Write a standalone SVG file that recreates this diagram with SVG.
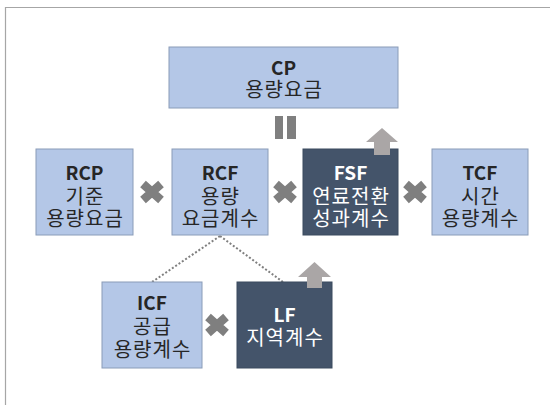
<svg xmlns="http://www.w3.org/2000/svg" width="550" height="405" viewBox="0 0 550 405">
<style>
.lb{fill:#b4c7e7;stroke:#8a9cb8;stroke-width:1}
.db{fill:#44546a;stroke:#3a4a5e;stroke-width:1}
text{font-family:"Noto Sans CJK KR","Malgun Gothic","Noto Sans",sans-serif;font-size:20px;text-anchor:middle;letter-spacing:1px}
.t{fill:#262626}
.w{fill:#ffffff}
.b{font-weight:bold;font-size:19px;letter-spacing:0}
.dot{fill:none;stroke:#7f7f7f;stroke-width:2;stroke-dasharray:2 2}
.arr{fill:#aaa6a6}
</style>
<defs>
<path id="x" d="M-9,-8 L9,8 M-9,8 L9,-8" fill="none" stroke="#7f7f7f" stroke-width="8.5"/>
</defs>
<rect width="550" height="405" fill="#ffffff"/>
<path d="M5.5,405 L5.5,7.5 L550,7.5" fill="none" stroke="#a6a6a6" stroke-width="1.2"/>
<g id="connectors">
<line class="dot" x1="220" y1="236" x2="152" y2="282"/>
<line class="dot" x1="220" y1="236" x2="283" y2="282"/>
</g>
<g id="CP">
<rect class="lb" x="169" y="47" width="229" height="61"/>
<text class="t b" x="283.5" y="75">CP</text>
<text class="t" x="284" y="97">용량요금</text>
</g>
<g id="equals">
<rect x="275" y="116" width="8" height="23" fill="#7f7f7f"/>
<rect x="287" y="116" width="9" height="23" fill="#7f7f7f"/>
</g>
<g id="RCP">
<rect class="lb" x="36" y="149" width="97" height="86"/>
<text class="t b" x="84.5" y="180">RCP</text>
<text class="t" x="85" y="204">기준</text>
<text class="t" x="85" y="226">용량요금</text>
</g>
<g id="RCF">
<rect class="lb" x="172" y="149" width="96" height="86"/>
<text class="t b" x="220" y="180">RCF</text>
<text class="t" x="220.5" y="204">용량</text>
<text class="t" x="220.5" y="226">요금계수</text>
</g>
<g id="FSF">
<rect class="db" x="303" y="149" width="95" height="86"/>
<text class="w b" x="350.5" y="180">FSF</text>
<text class="w" x="351" y="204">연료전환</text>
<text class="w" x="351" y="226">성과계수</text>
<polygon class="arr" points="382,128 398,142 390,142 390,155 374,155 374,142 366,142"/>
</g>
<g id="TCF">
<rect class="lb" x="432" y="149" width="96" height="86"/>
<text class="t b" x="480" y="180">TCF</text>
<text class="t" x="480.5" y="204">시간</text>
<text class="t" x="480.5" y="226">용량계수</text>
</g>
<g id="ICF">
<rect class="lb" x="102" y="282" width="100" height="86"/>
<text class="t b" x="152" y="310">ICF</text>
<text class="t" x="152.5" y="334">공급</text>
<text class="t" x="152.5" y="357">용량계수</text>
</g>
<g id="LF">
<rect class="db" x="237" y="282" width="95" height="86"/>
<text class="w b" x="284.5" y="322">LF</text>
<text class="w" x="285" y="345">지역계수</text>
<polygon class="arr" points="314.5,262 331,277 322,277 322,288 307,288 307,277 298,277"/>
</g>
<g id="multiply">
<use href="#x" x="152" y="192"/>
<use href="#x" x="285" y="192"/>
<use href="#x" x="415" y="192"/>
<use href="#x" x="217" y="325"/>
</g>
</svg>
